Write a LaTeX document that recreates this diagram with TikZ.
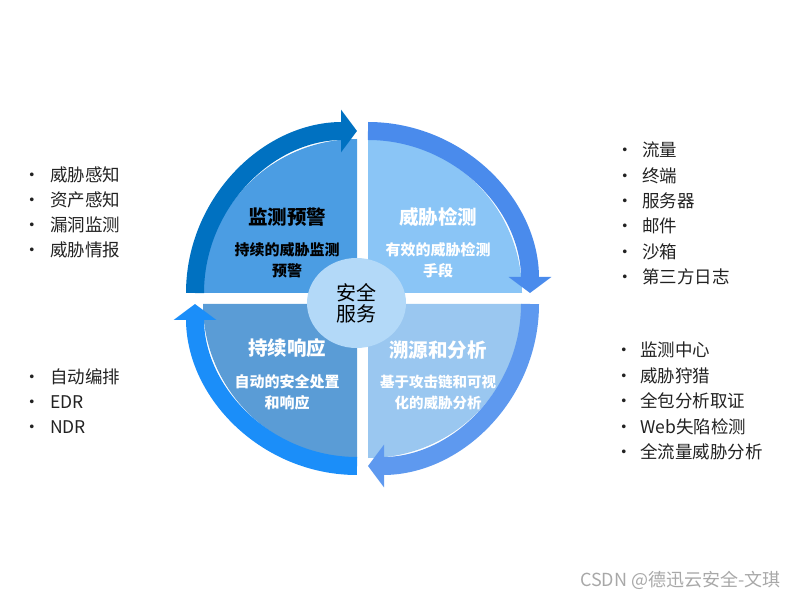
\documentclass[tikz,border=0pt]{standalone}
\usepackage{fontspec}
\setmainfont{Noto Sans CJK SC}
\usetikzlibrary{arrows.meta, shapes.geometric}
\definecolor{warnfill}{HTML}{4B9DE3}
\definecolor{warnarc}{HTML}{0071C1}
\definecolor{detfill}{HTML}{8AC5F6}
\definecolor{detarc}{HTML}{4A8BEC}
\definecolor{tracefill}{HTML}{9AC7F0}
\definecolor{tracearc}{HTML}{5E99EF}
\definecolor{respfill}{HTML}{5A9CD6}
\definecolor{resparc}{HTML}{1B8EF9}
\definecolor{corefill}{HTML}{B3D9F8}
\definecolor{listgray}{HTML}{222222}
\definecolor{markgray}{HTML}{A8A8A8}

\begin{document}
\begin{tikzpicture}[
      x=1pt,
      y=1pt,
      band/.style={line width=18pt, -{Triangle[width=42pt, length=16pt]}},
      title/.style={font=\fontsize{19.5pt}{21pt}\selectfont\bfseries, text=white},
      subtext/.style={font=\fontsize{15pt}{21pt}\selectfont\bfseries, text=white, align=center},
      item/.style={font=\fontsize{17.5pt}{21pt}\selectfont, text=listgray, anchor=west, inner sep=0pt}
  ]
    \useasboundingbox (0,0) rectangle (800,600);
    % four quadrants, each with its arrow band, clockwise from top left
    \foreach \cx/\cy/\a/\fc/\ac in {357/307/180/warnfill/warnarc, 368/307/90/detfill/detarc,
        368/296/0/tracefill/tracearc, 357/296/270/respfill/resparc} {
      \fill[\fc] (\cx,\cy) -- ++(\a:154) arc[start angle=\a, end angle=\a-90, radius=154] -- cycle;
      \draw[band, \ac] ([shift={(\a:162)}]\cx,\cy) arc[start angle=\a, end angle=\a-90, radius=162];
    }
    \node[ellipse, fill=corefill, minimum width=99pt, minimum height=90pt, inner sep=0pt,
          align=center, font=\fontsize{20pt}{21pt}\selectfont] (core) at (356.5,297) {安全\\服务};
    \node[title, text=black] (warn) at (287,383) {监测预警};
    \node[subtext, text=black] (warn-sub) at (287,339.5) {持续的威胁监测\\预警};
    \node[title] (detect) at (438,383) {威胁检测};
    \node[subtext] (detect-sub) at (438,339.5) {有效的威胁检测\\手段};
    \node[title] (respond) at (287,252) {持续响应};
    \node[subtext] (respond-sub) at (287,208) {自动的安全处置\\和响应};
    \node[title] (trace) at (438,250) {溯源和分析};
    \node[subtext, font=\fontsize{14.5pt}{21pt}\selectfont\bfseries] (trace-sub) at (438,207)
      {基于攻击链和可视\\化的威胁分析};
    % bullet lists
    \foreach \t [count=\i] in {威胁感知,资产感知,漏洞监测,威胁情报}
      \node[item] (warn-\i) at (23,{450-25*\i}) {\makebox[27pt][l]{•}\t};
    \foreach \t [count=\i] in {自动编排,EDR,NDR}
      \node[item] (respond-\i) at (23,{248-25*\i}) {\makebox[27pt][l]{•}\t};
    \foreach \t [count=\i] in {流量,终端,服务器,邮件,沙箱,第三方日志}
      \node[item] (detect-\i) at (616,{475.4-25.4*\i}) {\makebox[26pt][l]{•}\t};
    \foreach \t [count=\i] in {监测中心,威胁狩猎,全包分析取证,Web失陷检测,全流量威胁分析}
      \node[item] (trace-\i) at (615,{275.5-25.5*\i}) {\makebox[25pt][l]{•}\t};
    \node[font=\fontsize{18pt}{20pt}\selectfont, text=markgray, anchor=east] (mark) at (784,20)
      {CSDN @德迅云安全-文琪};
  \end{tikzpicture}
\end{document}
